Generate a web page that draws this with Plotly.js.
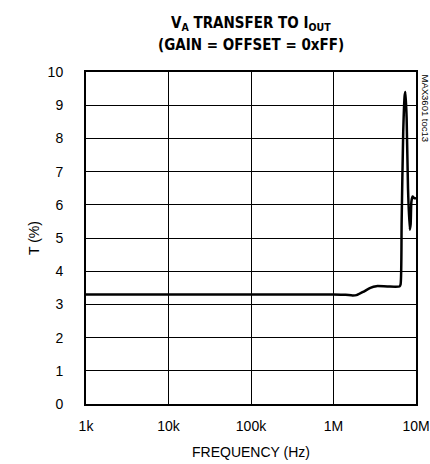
<!DOCTYPE html>
<html><head><meta charset="utf-8">
<script src="https://cdn.plot.ly/plotly-3.0.1.min.js"></script>
<style>body{margin:0;padding:0;background:#fff}</style>
</head><body>
<div id="chart" style="width:430px;height:464px"></div>
<script>
const freqHz = [1e3, 1e4, 1e5, 1e6, 1.4e6, 1.7e6, 1.9e6, 2.3e6, 2.8e6, 3.3e6, 4.5e6, 6.3e6, 6.5e6, 6.7e6, 7.0e6, 7.3e6, 7.45e6, 7.7e6, 8.0e6, 8.4e6, 8.6e6, 8.8e6, 9.1e6, 9.5e6, 1e7];
const transferPct = [3.3, 3.3, 3.3, 3.3, 3.29, 3.27, 3.28, 3.38, 3.5, 3.55, 3.54, 3.54, 3.6, 5.5, 8.2, 9.3, 9.4, 8.6, 6.5, 5.25, 5.4, 6.1, 6.25, 6.2, 6.2];
const xTickVals = [1e3, 1e4, 1e5, 1e6, 1e7];
const xTickText = ["1k", "10k", "100k", "1M", "10M"];
const yTickVals = [0,1,2,3,4,5,6,7,8,9,10];

const font = "'Liberation Sans Narrow', 'Liberation Sans', Arial, sans-serif";
const titleFont = "'DejaVu Sans Condensed', 'Liberation Sans Narrow', Arial, sans-serif";
Plotly.newPlot('chart', [{
  x: freqHz, y: transferPct, type: 'scatter', mode: 'lines',
  line: {color: '#000', width: 2.5, shape: 'spline', smoothing: 0.6},
  hoverinfo: 'skip'
}], {
  width: 430, height: 464,
  margin: {l: 86, r: 14, t: 72, b: 60},
  paper_bgcolor: '#fff', plot_bgcolor: '#fff',
  showlegend: false,
  xaxis: {type: 'log', range: [3, 7], tickvals: xTickVals, ticktext: xTickText,
    showgrid: true, gridcolor: '#000', gridwidth: 1, zeroline: false,
    showline: true, linecolor: '#000', linewidth: 2, mirror: true, ticks: '',
    ticklabelstandoff: 8,
    tickfont: {family: font, size: 14, color: '#000'},
    title: {text: 'FREQUENCY (Hz)', font: {family: font, size: 14, color: '#000'}, standoff: 14}},
  yaxis: {range: [0, 10], tickvals: yTickVals,
    showgrid: true, gridcolor: '#000', gridwidth: 1, zeroline: false,
    showline: true, linecolor: '#000', linewidth: 2, mirror: true, ticks: '',
    ticklabelstandoff: 18,
    tickfont: {family: font, size: 14, color: '#000'},
    title: {text: 'T (%)', font: {family: font, size: 14, color: '#000'}, standoff: 5}},
  annotations: [
    {text: '<b>V<sub>A</sub> TRANSFER TO I<sub>OUT</sub></b>', xref: 'paper', yref: 'paper', x: 0.5, y: 1,
      xanchor: 'center', yanchor: 'bottom', yshift: 37, showarrow: false,
      font: {family: titleFont, size: 15, color: '#000'}},
    {text: '<b>(GAIN = OFFSET = 0xFF)</b>', xref: 'paper', yref: 'paper', x: 0.5, y: 1,
      xanchor: 'center', yanchor: 'bottom', yshift: 16, showarrow: false,
      font: {family: titleFont, size: 15, color: '#000'}},
    {text: 'MAX3601 toc13', xref: 'paper', yref: 'paper', x: 1.0, y: 1.0,
      xanchor: 'left', yanchor: 'top', xshift: 2, textangle: 90, showarrow: false,
      font: {family: font, size: 9.5, color: '#000'}}]
}, {displayModeBar: false, staticPlot: true});
</script>
</body></html>
